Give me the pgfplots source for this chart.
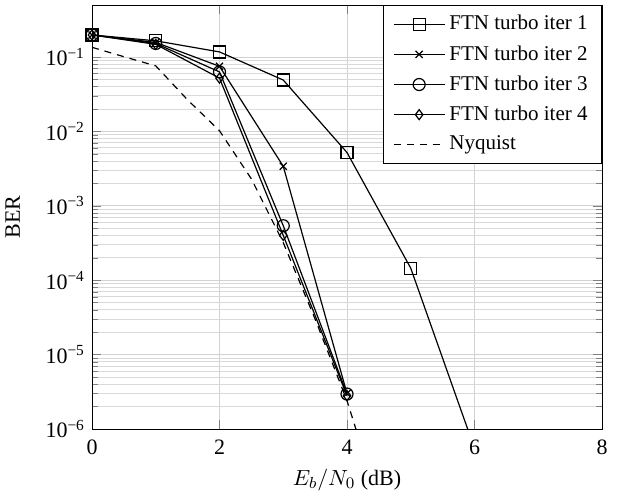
\documentclass[border=0pt]{standalone}
\usepackage{fontspec}
\setmainfont{Liberation Serif}
\usepackage{pgfplots}
\pgfplotsset{compat=1.18}
\begin{document}
\begin{tikzpicture}[font=\fontsize{10.5}{12.6}\selectfont]
\begin{axis}[
  name=ax,
  scale only axis,
  width=255pt, height=212pt,
  xmin=0, xmax=8, ymode=log, ymin=1e-6, ymax=0.5,
  xtick={0,2,4,6,8},
  ytick={1e-6,1e-5,1e-4,1e-3,1e-2,1e-1},
  yticklabels={10\textsuperscript{−6},10\textsuperscript{−5},10\textsuperscript{−4},10\textsuperscript{−3},10\textsuperscript{−2},10\textsuperscript{−1}},
  /pgf/number format/assume math mode=true,
  tick label style={font=\fontsize{11}{13}\selectfont},
  xticklabel style={yshift=-2pt},
  xmajorgrids, ymajorgrids, yminorgrids,
  major grid style={gray!35, line width=0.5pt},
  minor grid style={gray!30, line width=0.5pt},
  xlabel={$E_b/N_0$ (dB)},
  xlabel style={yshift=0pt, font=\fontsize{11}{13}\selectfont},
  ylabel={BER},
  ylabel style={yshift=6pt, font=\fontsize{11}{13}\selectfont},
  every axis plot/.append style={black, line width=0.6pt},
  legend style={at={(1,1)}, anchor=north east, draw=black, font=\fontsize{10.5}{12.6}\selectfont, inner xsep=5pt, inner ysep=3pt, row sep=2.3pt},
  legend cell align=left,
  legend image code/.code={\draw[mark repeat=2,mark phase=2] plot coordinates {(0cm,0cm)(0.45cm,0cm)(0.9cm,0cm)};},
]
\addplot[mark=square, mark size=3pt] coordinates {(0,0.198)(1,0.165)(2,0.117)(3,0.049)(4,0.0052)(5,1.45e-4)(6,5.5e-7)};
\addlegendentry{FTN turbo iter 1}
\addplot[mark=x, mark size=2.5pt] coordinates {(0,0.198)(1,0.157)(2,0.075)(3,3.4e-3)(4,3.0e-6)};
\addlegendentry{FTN turbo iter 2}
\addplot[mark=o, mark size=3pt] coordinates {(0,0.198)(1,0.152)(2,0.063)(3,5.4e-4)(4,2.95e-6)};
\addlegendentry{FTN turbo iter 3}
\addplot[mark=diamond, mark size=2.5pt] coordinates {(0,0.198)(1,0.148)(2,0.052)(3,4.0e-4)(4,2.8e-6)};
\addlegendentry{FTN turbo iter 4}
\addplot[dash pattern=on 3.5pt off 3pt, mark=none] coordinates {(0,0.135)(0.5,0.101)(1,0.076)(1.5,0.0265)(2,0.0102)(2.5,2.3e-3)(3,3.2e-4)(3.5,3.0e-5)(4,2.4e-6)(4.25,5e-7)};
\addlegendentry{Nyquist}
\end{axis}
\pgfresetboundingbox
\path[use as bounding box] ([xshift=-46pt,yshift=-30.5pt]ax.south west) rectangle ([xshift=7.5pt,yshift=2.5pt]ax.north east);
\end{tikzpicture}
\end{document}
